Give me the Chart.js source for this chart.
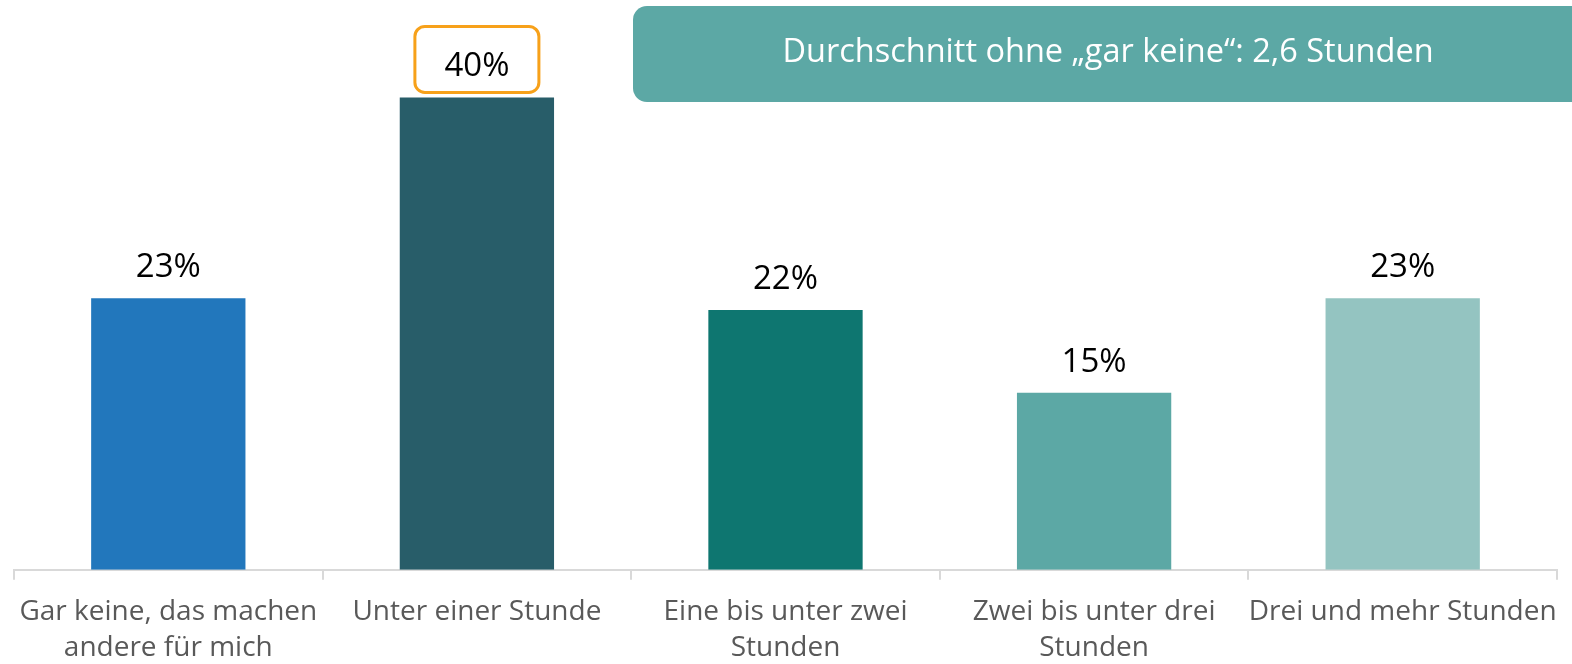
<!DOCTYPE html>
<html>
<head>
<meta charset="utf-8">
<script src="https://cdn.jsdelivr.net/npm/chart.js@4"></script>
<style>
  body { margin: 0; background: #fff; }
  canvas { display: block; }
</style>
</head>
<body>
<canvas id="chart" width="1572" height="664"></canvas>
<script>
// categories (multi-line labels) and values in percent
const categories = [
  ["Gar keine, das machen", "andere für mich"],
  "Unter einer Stunde",
  ["Eine bis unter zwei", "Stunden"],
  ["Zwei bis unter drei", "Stunden"],
  "Drei und mehr Stunden"
];
const values = [23, 40, 22, 15, 23];
const barColors = ["#2277BC", "#285D69", "#0E7670", "#5CA8A5", "#94C4C1"];
const bannerText = "Durchschnitt ohne \u201Egar keine\u201C: 2,6 Stunden";
const highlightIndex = 1;

const fontFamily = "'Open Sans', sans-serif";

//Plugin for the value labels above the bars, the orange box and the banner
const labelsPlugin = {
  id: "labelsPlugin",
  afterDatasetsDraw(chart) {
    const ctx = chart.ctx;
    const meta = chart.getDatasetMeta(0);
    ctx.save();
    ctx.font = "33px " + fontFamily;
    ctx.textAlign = "center";
    ctx.textBaseline = "alphabetic";
    meta.data.forEach(function (bar, i) {
      const baseline = bar.y - 21;
      if (i === highlightIndex) {
        ctx.strokeStyle = "#F7A11A";
        ctx.lineWidth = 3;
        ctx.beginPath();
        ctx.roundRect(bar.x - 62, bar.y - 71, 124, 66, 10);
        ctx.stroke();
      }
      ctx.fillStyle = "#000";
      ctx.fillText(values[i] + "%", bar.x, baseline);
    });

    //Banner in the top right corner
    ctx.fillStyle = "#5CA8A5";
    ctx.beginPath();
    ctx.roundRect(633, 6, chart.width - 633 + 20, 96, 14);
    ctx.fill();
    ctx.fillStyle = "#fff";
    ctx.font = "32.5px " + fontFamily;
    ctx.textBaseline = "middle";
    ctx.fillText(bannerText, 1108, 53);
    ctx.restore();
  }
};

new Chart(document.getElementById("chart"), {
  type: "bar",
  data: {
    labels: categories,
    datasets: [{
      data: values,
      backgroundColor: barColors,
      categoryPercentage: 0.5,
      barPercentage: 1
    }]
  },
  options: {
    responsive: false,
    animation: false,
    layout: { padding: { left: 14, right: 14, top: 3, bottom: -16 } },
    plugins: {
      legend: { display: false },
      tooltip: { enabled: false }
    },
    scales: {
      x: {
        grid: {
          offset: true,
          drawOnChartArea: false,
          drawTicks: true,
          tickLength: 10,
          color: "#D9D9D9",
          lineWidth: 2
        },
        border: { display: true, color: "#D9D9D9", width: 2 },
        ticks: {
          color: "#595959",
          padding: 14,
          maxRotation: 0,
          autoSkip: false,
          font: { family: fontFamily, size: 28, lineHeight: 1.29 }
        }
      },
      y: {
        display: false,
        min: 0,
        max: 48
      }
    }
  },
  plugins: [labelsPlugin]
});
</script>
</body>
</html>
